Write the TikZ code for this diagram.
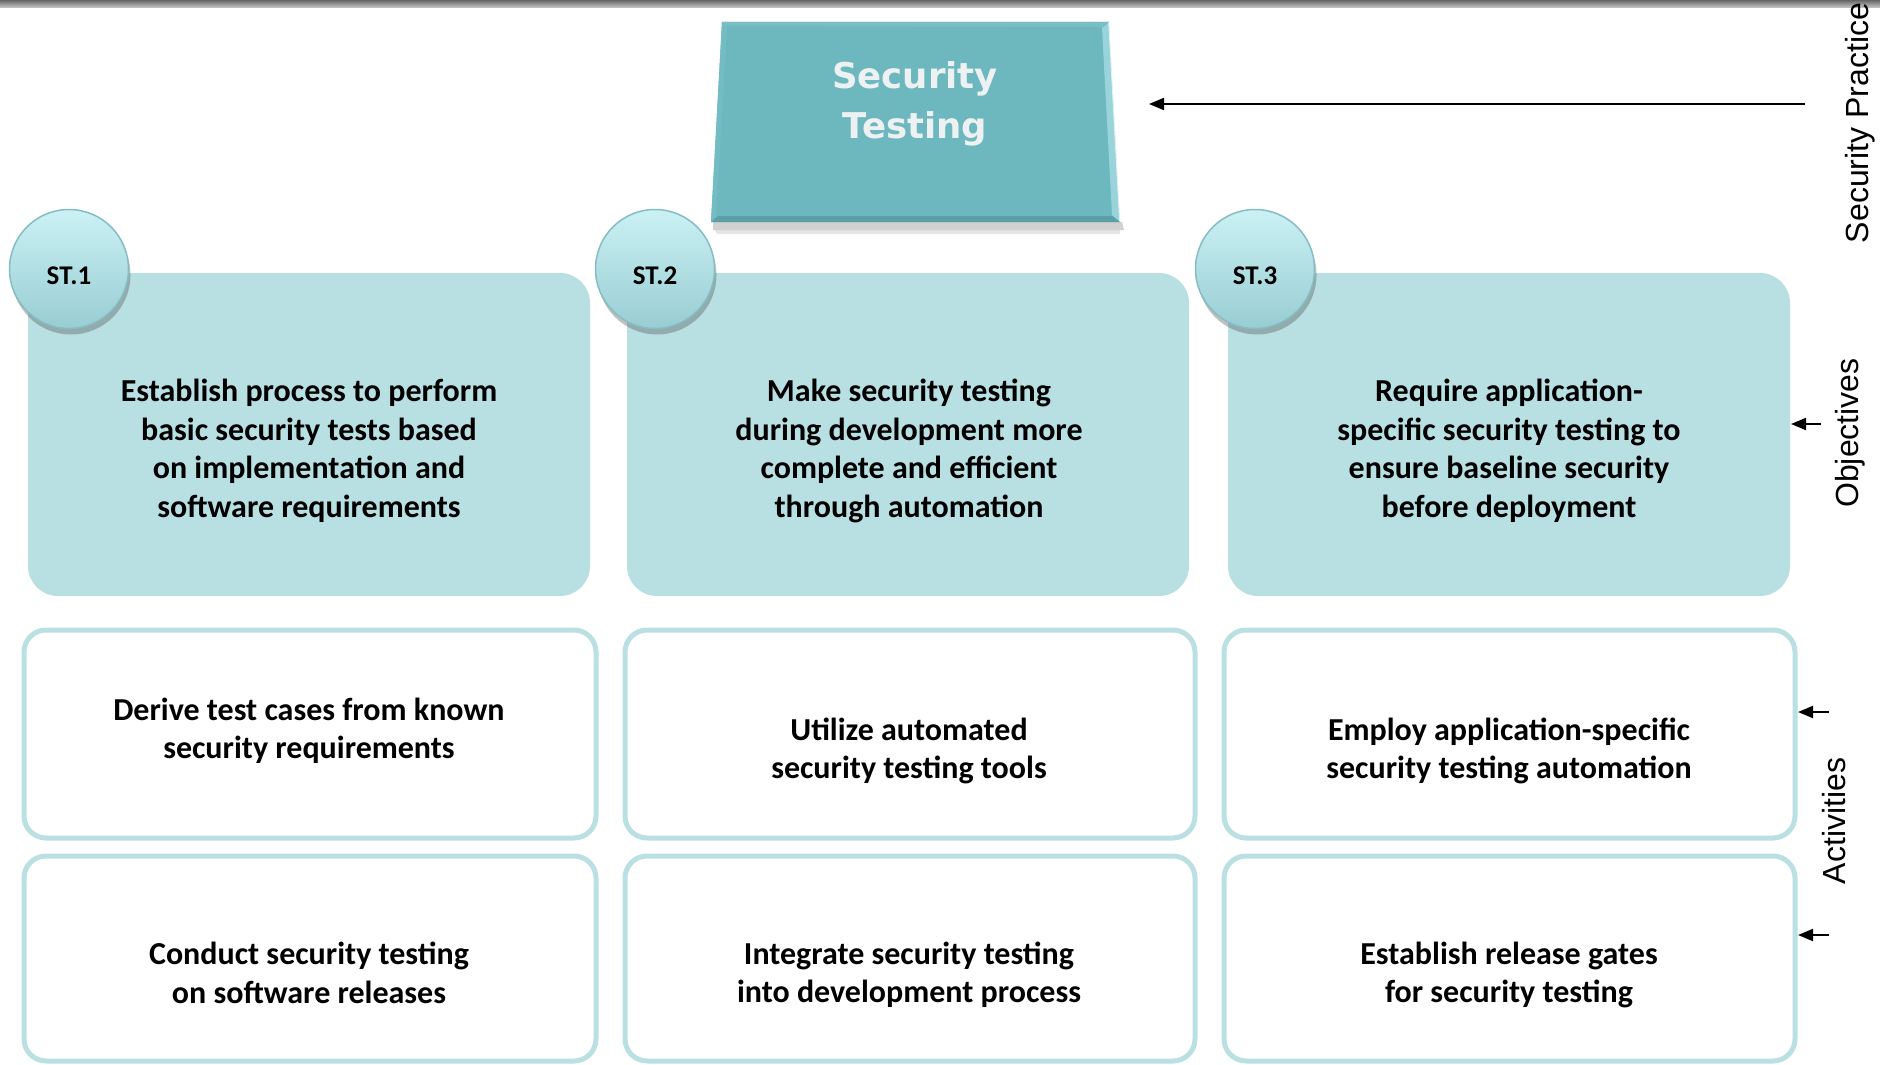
\documentclass[tikz,border=0pt]{standalone}
\usepackage{fontspec}
\setmainfont{Carlito}
\newfontfamily\labelfont{Liberation Sans}
\newfontfamily\titlefont{DejaVu Sans}
\usetikzlibrary{shadows,arrows.meta}

\definecolor{objfill}{HTML}{B8DFE2}
\definecolor{actline}{HTML}{BAE0E3}
\definecolor{titlefill}{HTML}{6DB8BF}
\definecolor{titlelight}{HTML}{98D4D9}
\definecolor{titleleft}{HTML}{74BCC3}
\definecolor{titledark}{HTML}{5C9FA6}
\definecolor{balltop}{HTML}{CBF1F4}
\definecolor{ballbot}{HTML}{98CDD3}
\definecolor{ballrim}{HTML}{86BCC3}
\definecolor{titletext}{HTML}{EEF1F1}

\tikzset{
  objbox/.style={fill=objfill, rounded corners=30pt},
  actbox/.style={draw=actline, line width=5pt, fill=white, rounded corners=22pt},
  objtext/.style={align=center, font=\bfseries\fontsize{32}{38.5}\selectfont, inner sep=0pt},
  acttext/.style={align=center, font=\bfseries\fontsize{32}{38.5}\selectfont, inner sep=0pt},
  stball/.style={circle, minimum size=119pt, inner sep=0pt,
    top color=balltop, bottom color=ballbot, draw=ballrim, line width=1.5pt,
    drop shadow={shadow xshift=2pt, shadow yshift=-6pt, opacity=0.35, fill=black!70}},
  sttext/.style={font=\bfseries\fontsize{27}{32}\selectfont, inner sep=0pt},
  sidelabel/.style={rotate=90, font=\labelfont\fontsize{32}{38}\selectfont, inner sep=0pt},
  pointer/.style={line width=2pt, -{Triangle[length=15pt,width=12pt]}},
}

\begin{document}
\begin{tikzpicture}[x=1pt, y=-1pt]
\useasboundingbox (0,0) rectangle (1880,1065);
\fill[white] (0,0) rectangle (1880,1065);

% thin grey band along the top edge
\shade[top color=black!60, bottom color=black!20] (0,0) rectangle (1880,8);

% bevelled title plate
\fill[black, opacity=0.18] (713,222) -- (1122,222) -- (1124,230) -- (713,230) -- cycle;
\fill[black, opacity=0.10] (715,230) -- (1120,230) -- (1120,234) -- (717,234) -- cycle;
\fill[titlefill] (722,22) -- (1109,22) -- (1120,222) -- (711,222) -- cycle;
\fill[titleleft] (722,22) -- (727,26) -- (716,218) -- (711,222) -- cycle;
\fill[titlelight] (1102,28) -- (1109,22) -- (1120,222) -- (1112,215) -- cycle;
\draw[white, opacity=0.7, line width=1.5pt] (1109,22) -- (1120,222);
\fill[titledark] (711,222) -- (718,216) -- (1112,216) -- (1120,222) -- cycle;
\fill[titlefill!92!white] (722,22) -- (1109,22) -- (1103,27) -- (727,26) -- cycle;
\node[align=center, text=titletext, font=\titlefont\bfseries\fontsize{35.5}{50}\selectfont]
  (title) at (915,104) {Security\\Testing};

% objectives
\fill[objbox] (28,273) rectangle (590,596);
\fill[objbox] (627,273) rectangle (1189,596);
\fill[objbox] (1228,273) rectangle (1790,596);
\node[objtext] (obj1) at (309,451) {Establish process to perform\\basic security tests based\\on implementation and\\software requirements};
\node[objtext] (obj2) at (909,451) {Make security testing\\during development more\\complete and efficient\\through automation};
\node[objtext] (obj3) at (1509,451) {Require application-\\specific security testing to\\ensure baseline security\\before deployment};

% objective markers
\node[stball] (st1) at (69,269) {};
\node[stball] (st2) at (655,269) {};
\node[stball] (st3) at (1255,269) {};
\node[sttext] (st1-label) at (69,276) {ST.1};
\node[sttext] (st2-label) at (655,276) {ST.2};
\node[sttext] (st3-label) at (1255,276) {ST.3};

% activities
\draw[actbox] (24,630) rectangle (596,838);
\draw[actbox] (625,630) rectangle (1195,838);
\draw[actbox] (1224,630) rectangle (1795,838);
\draw[actbox] (24,856) rectangle (596,1061);
\draw[actbox] (625,856) rectangle (1195,1061);
\draw[actbox] (1224,856) rectangle (1795,1061);
\node[acttext] (act11) at (309,731) {Derive test cases from known\\security requirements};
\node[acttext] (act12) at (909,751) {Utilize automated\\security testing tools};
\node[acttext] (act13) at (1509,751) {Employ application-specific\\security testing automation};
\node[acttext] (act21) at (309,973) {Conduct security testing\\on software releases};
\node[acttext] (act22) at (909,975) {Integrate security testing\\into development process};
\node[acttext] (act23) at (1509,975) {Establish release gates\\for security testing};

% level labels on the right
\node[sidelabel] (lab-sp) at (1860,123) {Security Practice};
\node[sidelabel] (lab-obj) at (1850,433) {Objectives};
\node[sidelabel] (lab-act) at (1834,821) {Activities};

\coordinate (sp-from) at (1805,104);
\coordinate (sp-to) at (1149,104);
\coordinate (obj-from) at (1821,424);
\coordinate (obj-to) at (1791,424);
\coordinate (act1-from) at (1829,712);
\coordinate (act1-to) at (1798,712);
\coordinate (act2-from) at (1829,935);
\coordinate (act2-to) at (1798,935);
\draw[pointer] (sp-from) -- (sp-to);
\draw[pointer] (obj-from) -- (obj-to);
\draw[pointer] (act1-from) -- (act1-to);
\draw[pointer] (act2-from) -- (act2-to);
\end{tikzpicture}
\end{document}
